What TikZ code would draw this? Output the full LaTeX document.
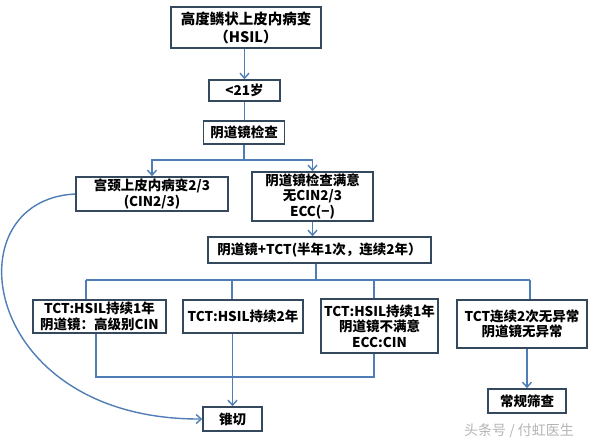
\documentclass[tikz,border=0pt]{standalone}
\usepackage{fontspec}
\setmainfont{Noto Sans CJK SC}
\usepackage{xcolor}
\usetikzlibrary{arrows.meta}
\definecolor{figline}{HTML}{4F7DB5}
\definecolor{figframe}{HTML}{34495E}
\definecolor{figmark}{HTML}{B4B4B4}
\tikzset{
  every picture/.append style={font=\bfseries\fontsize{13.5}{15.5}\selectfont},
  stepbox/.style={draw=figframe,line width=1.6pt,fill=white,inner sep=0.5pt,align=center},
  link/.style={draw=figline,line width=1.4pt},
  arr/.style={link,-{Straight Barb[length=5pt,width=9pt]}}
}
\begin{document}
\begin{tikzpicture}[x=1pt,y=-1pt]
    \useasboundingbox (0,0) rectangle (596,444);
    % top of the chart
    \node[stepbox,minimum width=150pt,minimum height=41pt,font=\bfseries\fontsize{14.5}{18}\selectfont] (hsil) at (246,27.5) {高度鳞状上皮内病变\\（HSIL）};
    \node[stepbox,minimum width=71pt,minimum height=21pt] (young) at (244.5,90.5) {<21岁};
    \node[stepbox,minimum width=81pt,minimum height=23pt] (colpo) at (244,132.5) {阴道镜检查};
    \node[stepbox,minimum width=152pt,minimum height=34pt] (cin) at (152,194) {宫颈上皮内病变2/3\\(CIN2/3)};
    \node[stepbox,minimum width=121pt,minimum height=49pt] (good) at (312.5,196.5) {阴道镜检查满意\\无CIN2/3\\ECC(−)};
    \node[stepbox,minimum width=223pt,minimum height=26pt] (follow) at (319.5,250) {阴道镜+TCT(半年1次，连续2年）};
    % results of follow-up
    \node[stepbox,minimum width=133pt,minimum height=33pt] (hsila) at (99.5,316.5) {TCT:HSIL持续1年\\阴道镜：高级别CIN};
    \node[stepbox,minimum width=120pt,minimum height=33pt] (hsilb) at (243,316.5) {TCT:HSIL持续2年};
    \node[stepbox,minimum width=117pt,minimum height=54pt] (hsilc) at (379.5,326) {TCT:HSIL持续1年\\阴道镜不满意\\ECC:CIN};
    \node[stepbox,minimum width=130pt,minimum height=48pt] (normal) at (522,324) {TCT连续2次无异常\\阴道镜无异常};
    \node[stepbox,minimum width=59pt,minimum height=24pt] (cone) at (232.5,419) {锥切};
    \node[stepbox,minimum width=78pt,minimum height=24pt] (routine) at (527,401) {常规筛查};
    \node[text=figmark,font=\fontsize{14}{16}\selectfont] (mark) at (519,431) {头条号 / 付虹医生};
    % connectors
    \draw[arr] (hsil.south -| young.north) -- (young.north);
    \draw[link] (young.south) -- (young.south |- colpo.north);
    \draw[link] (colpo.south) -- ++(0,15) coordinate (split);
    \draw[arr] (split) -| (cin.north);
    \draw[arr] (split) -| (good.north);
    \draw[arr] (good.south) -- (good.south |- follow.north);
    \draw[link] (follow.south -| 316,0) -- (316,280) coordinate (bus);
    \draw[link] (86,280) -- (530,280);
    \foreach \n/\x in {hsila/86,hsilb/232,hsilc/374,normal/530} {
      \draw[link] (\x,280) -- (\x,0 |- \n.north);
    }
    \draw[link] (96,0 |- hsila.south) -- (96,377) -- (374,377) -- (374,0 |- hsilc.south);
    \draw[arr] (cone.north |- hsilb.south) -- (cone.north);
    \draw[arr] (routine.north |- normal.south) -- (routine.north);
    \draw[arr] (cin.west) .. controls (-50,200) and (-20,420) .. (cone.west);
  \end{tikzpicture}
\end{document}
